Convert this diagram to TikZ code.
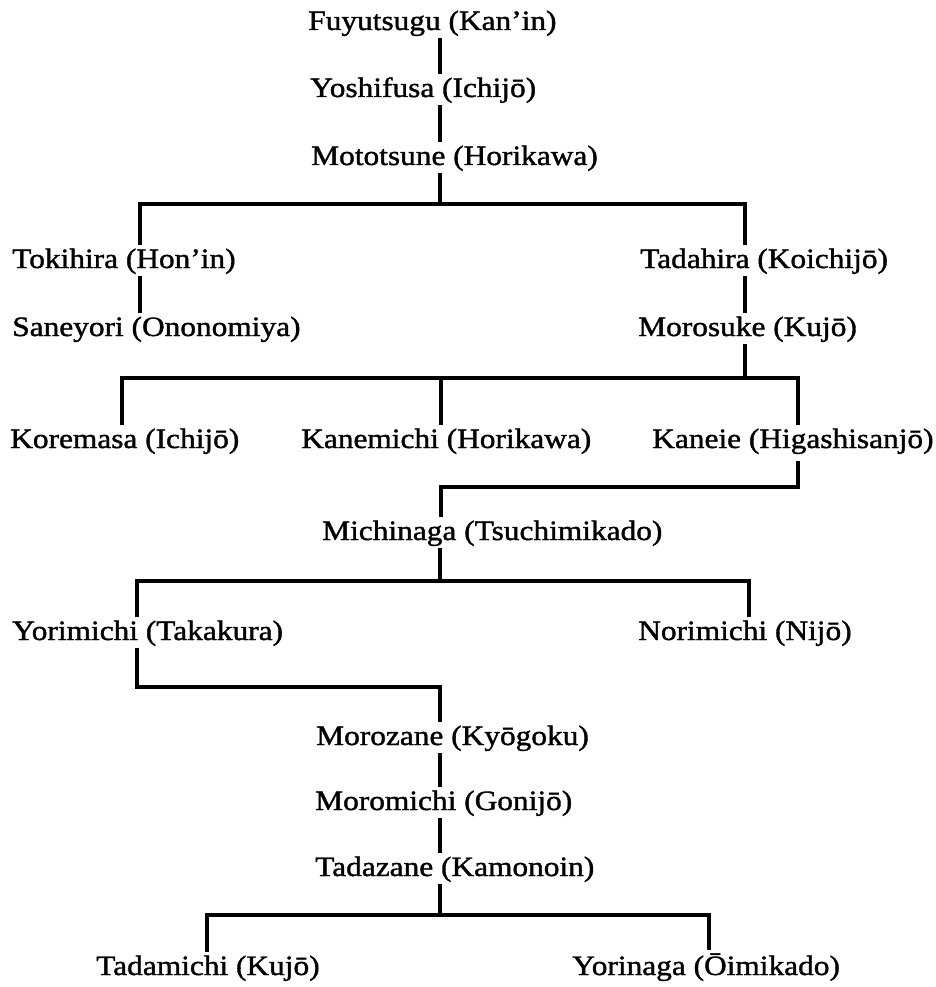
\documentclass[tikz,border=0pt]{standalone}
\usepackage{fontspec}
\setmainfont{Liberation Serif}[FakeStretch=1.12,FakeBold=1.3]
\begin{document}
\begin{tikzpicture}[x=0.75pt,y=-0.75pt,
  person/.style={anchor=base west,inner sep=0pt,font=\fontsize{21}{24}\selectfont},
  link/.style={line width=2.5pt}]
\useasboundingbox (0,0) rectangle (935,987);
\fill[white] (0,0) rectangle (935,987);
% people
\node[person] (fuy) at (308,30) {Fuyutsugu (Kan’in)};
\node[person] (yos) at (310,97) {Yoshifusa (Ichijō)};
\node[person] (mot) at (311,165) {Mototsune (Horikawa)};
\node[person] (tok) at (12,268) {Tokihira (Hon’in)};
\node[person] (tad) at (640,268) {Tadahira (Koichijō)};
\node[person] (san) at (12,336) {Saneyori (Ononomiya)};
\node[person] (mor) at (638,336) {Morosuke (Kujō)};
\node[person] (kor) at (10,448) {Koremasa (Ichijō)};
\node[person] (kan) at (301,448) {Kanemichi (Horikawa)};
\node[person] (kae) at (652,448) {Kaneie (Higashisanjō)};
\node[person] (mic) at (322,540) {Michinaga (Tsuchimikado)};
\node[person] (yor) at (12,640) {Yorimichi (Takakura)};
\node[person] (nor) at (638,640) {Norimichi (Nijō)};
\node[person] (moz) at (316,745) {Morozane (Kyōgoku)};
\node[person] (mom) at (315,810) {Moromichi (Gonijō)};
\node[person] (tdz) at (315,876) {Tadazane (Kamonoin)};
\node[person] (tdm) at (96,975) {Tadamichi (Kujō)};
\node[person] (yon) at (572,975) {Yorinaga (Ōimikado)};
% junction coordinates
\coordinate (sx) at (440,0);
\coordinate (j1) at (440,204); \coordinate (l1) at (140,204); \coordinate (r1) at (745,204);
\coordinate (j2) at (745,378); \coordinate (l2) at (122,378); \coordinate (m2) at (441,378); \coordinate (r2) at (798,378);
\coordinate (k1) at (798,487); \coordinate (k2) at (441,487);
\coordinate (j3) at (440,581); \coordinate (l3) at (137,581); \coordinate (r3) at (749,581);
\coordinate (y1) at (137,687); \coordinate (y2) at (440,687);
\coordinate (j4) at (440,915); \coordinate (l4) at (207,915); \coordinate (r4) at (709,915);
% connectors
\draw[link] ([yshift=-1.5pt]fuy.south -| sx) -- ([yshift=2.25pt]yos.north -| sx);
\draw[link] ([yshift=-1.5pt]yos.south -| sx) -- ([yshift=2.25pt]mot.north -| sx);
\draw[link] ([yshift=-1.5pt]mot.south -| j1) -- (j1);
\draw[link] ([yshift=2.25pt]tok.north -| l1) -- (l1) -- (r1) -- ([yshift=2.25pt]tad.north -| r1);
\draw[link] ([yshift=-1.5pt]tok.south -| l1) -- ([yshift=2.25pt]san.north -| l1);
\draw[link] ([yshift=-1.5pt]tad.south -| r1) -- ([yshift=2.25pt]mor.north -| r1);
\draw[link] ([yshift=-1.5pt]mor.south -| j2) -- (j2);
\draw[link] ([yshift=2.25pt]kor.north -| l2) -- (l2) -- (r2) -- ([yshift=2.25pt]kae.north -| r2);
\draw[link] (m2) -- ([yshift=2.25pt]kan.north -| m2);
\draw[link] ([yshift=-5pt]kae.south -| k1) -- (k1) -- (k2) -- ([yshift=2.25pt]mic.north -| k2);
\draw[link] ([yshift=-1.5pt]mic.south -| j3) -- (j3);
\draw[link] ([yshift=2.25pt]yor.north -| l3) -- (l3) -- (r3) -- ([yshift=2.25pt]nor.north -| r3);
\draw[link] ([yshift=-1.5pt]yor.south -| y1) -- (y1) -- (y2) -- ([yshift=2.25pt]moz.north -| y2);
\draw[link] ([yshift=-1.5pt]moz.south -| y2) -- ([yshift=2.25pt]mom.north -| y2);
\draw[link] ([yshift=-1.5pt]mom.south -| j4) -- ([yshift=2.25pt]tdz.north -| j4);
\draw[link] ([yshift=-1.5pt]tdz.south -| j4) -- (j4);
\draw[link] ([yshift=2.25pt]tdm.north -| l4) -- (l4) -- (r4) -- ([yshift=2.25pt]yon.north -| r4);
\end{tikzpicture}
\end{document}
